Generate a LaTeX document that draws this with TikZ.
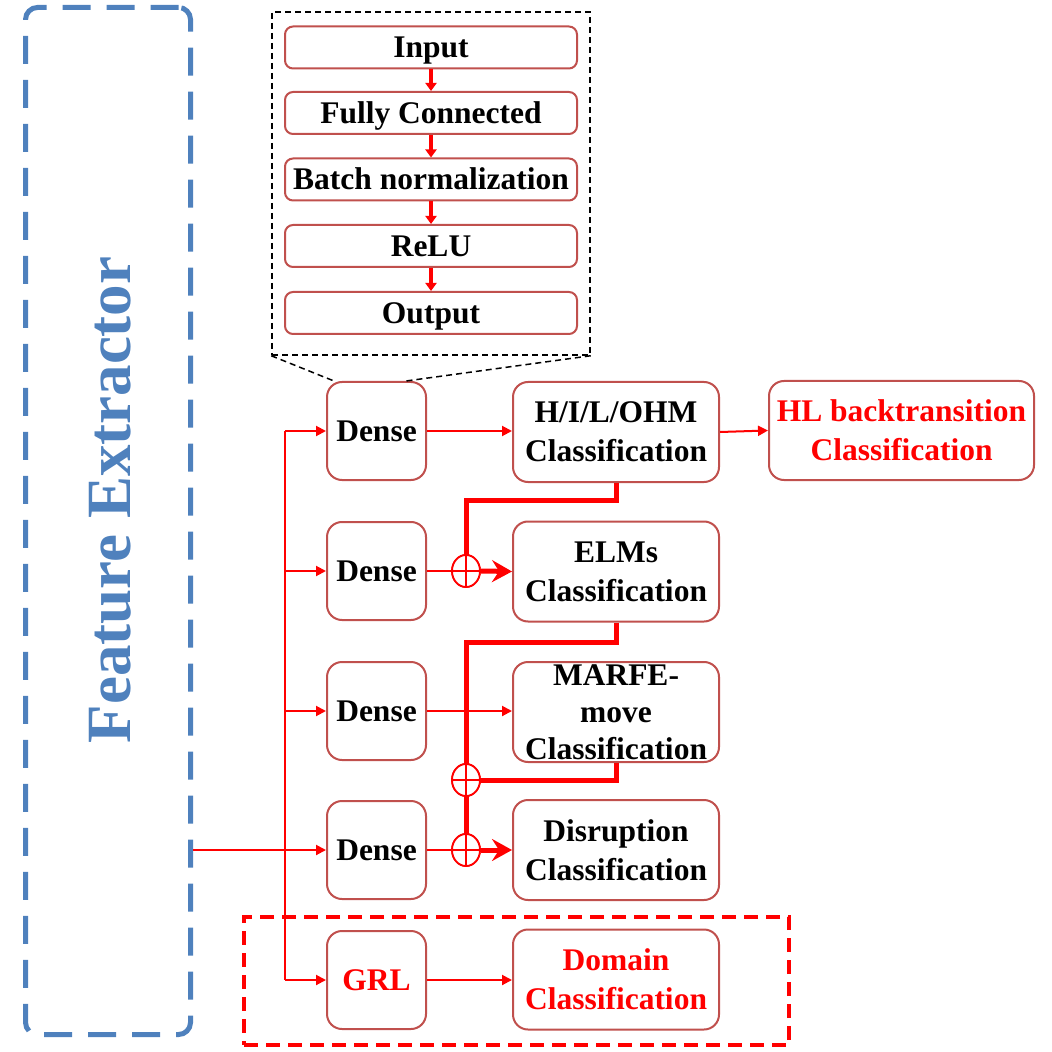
\documentclass[tikz,border=0pt]{standalone}
\usepackage{fontspec}
\setmainfont{Liberation Serif}
\usetikzlibrary{arrows.meta,shapes.geometric}
\definecolor{boxred}{HTML}{C0504D}
\definecolor{feblue}{HTML}{4F81BD}

\begin{document}
\begin{tikzpicture}[
        x=0.5pt, y=-0.5pt,
        every node/.style={align=center, font=\fontsize{15.75}{19.5}\selectfont\bfseries},
        block/.style={draw=boxred, line width=1pt, fill=white, inner sep=0pt},
        layer/.style={block, rounded corners=4pt, minimum width=146pt, minimum height=21pt, text height=12pt, text depth=1.6pt},
        dense/.style={block, rounded corners=7.5pt, minimum width=49.5pt, minimum height=49pt},
        task/.style={block, rounded corners=7.5pt, minimum width=103pt, minimum height=50pt},
        sum/.style={draw=red, line width=0.9pt, fill=white, ellipse, inner sep=0pt, minimum width=14pt, minimum height=16pt},
        flow/.style={red, line width=1pt, -{Triangle[length=5pt,width=5pt]}},
        inflow/.style={red, line width=2pt, -{Triangle[length=4pt,width=5.5pt]}},
        wire/.style={red, line width=1pt},
        merge/.style={red, line width=2.5pt, line join=miter},
        mergeflow/.style={merge, -{Stealth[length=10pt,width=11pt,inset=3.5pt]}}
    ]
        \useasboundingbox (0,0) rectangle (1051,1052);

        % Feature extractor frame and label
        \node[draw=feblue, line width=2.5pt, dash pattern=on 14pt off 8pt, rounded corners=6pt,
              minimum width=82.5pt, minimum height=513.5pt] (fe) at (108,521) {};
        \node[rotate=90, text=feblue, font=\fontsize{31.5}{36}\selectfont\bfseries] (fetext) at (110,500) {Feature Extractor};

        % Inside of a dense block (zoomed)
        \node[draw, line width=0.75pt, dash pattern=on 3pt off 2pt, minimum width=159pt, minimum height=171.5pt] (zoom) at (431,183.5) {};
        \node[layer] (in) at (431,47.5) {Input};
        \node[layer] (fc) at (431,113) {Fully Connected};
        \node[layer] (bn) at (431,179.5) {Batch normalization};
        \node[layer] (relu) at (431,246) {ReLU};
        \node[layer] (out) at (431,313) {Output};
        \foreach \a/\b in {in/fc, fc/bn, bn/relu, relu/out}
            \draw[inflow] (\a.south) -- (\b.north);

        % Dense layers and GRL
        \node[dense] (dense1) at (376.5,431) {Dense};
        \node[dense] (dense2) at (376.5,571) {Dense};
        \node[dense] (dense3) at (376.5,711) {Dense};
        \node[dense] (dense4) at (376.5,850) {Dense};
        \node[dense, text=red] (grl) at (376.5,980) {GRL};

        \draw[line width=0.75pt, dash pattern=on 3pt off 2pt] (zoom.south west) -- ([xshift=4pt]dense1.north west);
        \draw[line width=0.75pt, dash pattern=on 3pt off 2pt] (zoom.south east) -- ([xshift=-10.5pt]dense1.north east);

        % Classification heads
        \node[task] (hilo) at (616,432) {H/I/L/OHM\\Classification};
        \node[task] (elms) at (616,571.5) {ELMs\\Classification};
        \node[task, font=\fontsize{15.75}{18.5}\selectfont\bfseries] (marfe) at (616,712) {MARFE-\\move\\Classification};
        \node[task] (disr) at (616,850) {Disruption\\Classification};
        \node[task, text=red] (domain) at (616,979.5) {Domain\\Classification};
        \node[task, text=red, minimum width=132.5pt, minimum height=49.5pt] (hlback) at (901.5,430.5) {HL backtransition\\Classification};

        % Domain branch frame
        \node[draw=red, line width=2pt, dash pattern=on 7pt off 4pt, minimum width=272.5pt, minimum height=64pt] (adv) at (516.5,981) {};

        % Trunk from the feature extractor
        \coordinate (trunk) at (285,0);
        \draw[wire] (dense1.west -| trunk) -- (grl.west -| trunk);
        \draw[flow] (fe.east |- dense4) -- (dense4.west);
        \foreach \d in {dense1, dense2, dense3, grl}
            \draw[flow] (\d.west -| trunk) -- (\d.west);

        % Dense to heads
        \draw[flow] (dense1.east) -- (dense1.east -| hilo.west);
        \draw[flow] (dense3.east) -- (dense3.east -| marfe.west);
        \draw[flow] (grl.east) -- (grl.east -| domain.west);
        \draw[flow] (hilo.east) -- (hlback.west);

        % Sums of earlier heads
        \node[sum] (sum1) at (466,571) {};
        \node[sum] (sum2) at (466,780) {};
        \node[sum] (sum3) at (466,850) {};
        \draw[wire] (dense2.east) -- (sum1.west);
        \draw[wire] (dense4.east) -- (sum3.west);

        \coordinate (k1) at (616,500);
        \coordinate (k2) at (616,642);
        \coordinate (k3) at (616,780);
        \draw[merge] (hilo.south) -- (k1) -| (sum1.center);
        \draw[merge] (elms.south) -- (k2) -| (sum2.center);
        \draw[merge] (marfe.south) -- (k3) -- (sum2.center);
        \draw[merge] (sum2.center) -- (sum3.center);
        \foreach \s in {sum1, sum2, sum3}
            \draw[red, line width=0.9pt, fill=white] (\s) ellipse (7pt and 8pt)
                (\s.north) -- (\s.south) (\s.west) -- (\s.east);
        \draw[mergeflow] (sum1.east) -- (elms.west);
        \draw[mergeflow] (sum3.east) -- (disr.west);
    \end{tikzpicture}
\end{document}
